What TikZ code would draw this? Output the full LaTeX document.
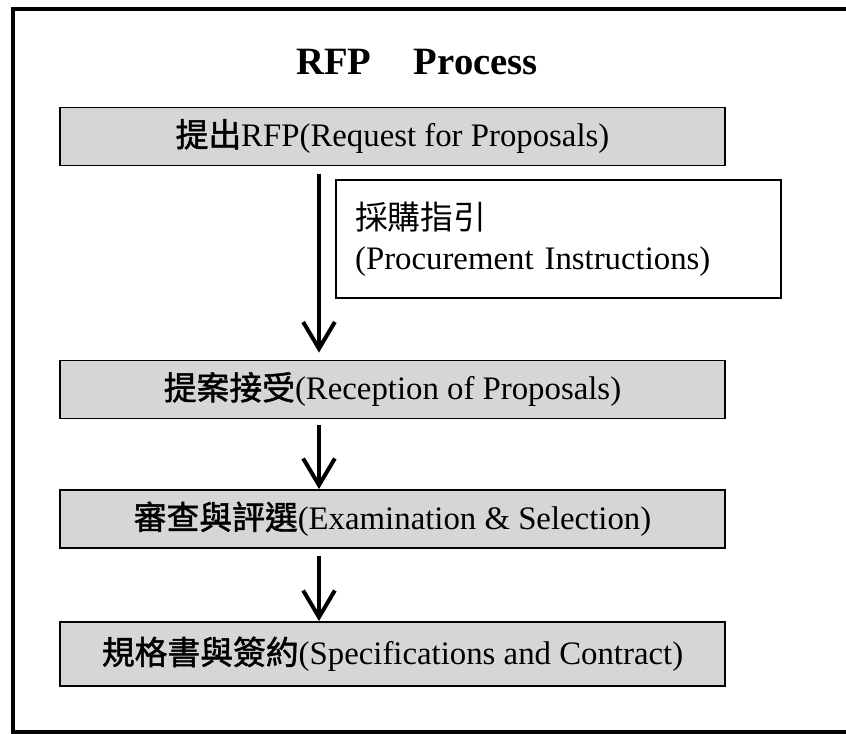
\documentclass[tikz,border=0pt]{standalone}
\usepackage{fontspec}
\setmainfont{Liberation Serif}
\newfontfamily\cjk{Noto Sans CJK TC}
\newfontfamily\cjkbold[FakeBold=1.5]{Noto Sans CJK TC}
\usetikzlibrary{positioning, arrows.meta, calc}

\begin{document}
\begin{tikzpicture}[
        x=0.03cm, y=-0.03cm,
        stage/.style={rectangle, draw, line width=1.6pt, fill=black!16, minimum width=19.95cm, minimum height=1.74cm, font=\fontsize{28}{34}\selectfont},
        note/.style={rectangle, draw, line width=1.6pt, minimum width=13.35cm, minimum height=3.54cm, inner xsep=0.54cm, text width=12.2cm, align=left, font=\fontsize{28}{34}\selectfont},
        flow/.style={line width=3.4pt, -{Straight Barb[length=0.8cm, width=0.95cm]}}
    ]

    \useasboundingbox (0,0) rectangle (846,734);

    % Outer frame (open on the right, cut by the page)
    \draw[line width=3.2pt] (846,9) -- (13,9) -- (13,732) -- (846,732);

    % Title
    \node[font=\fontsize{33}{39}\selectfont\bfseries] (title) at (417,62) {RFP\hspace{1.1em}Process};

    % --------------------------------------------------
    % Process stages
    \node[stage] (request)   at (392.5,136.5) {{\cjkbold 提出}RFP(Request for Proposals)};
    \node[stage] (reception) at (392.5,389.5) {{\cjkbold 提案接受}(Reception of Proposals)};
    \node[stage] (examine)   at (392.5,519)   {{\cjkbold 審查與評選}(Examination \& Selection)};
    \node[stage, minimum height=1.92cm] (contract) at (392.5,654) {{\cjkbold 規格書與簽約}(Specifications and Contract)};

    % Side note next to the first arrow
    \node[note, anchor=north west] (guide) at (335,179) {{\cjk 採購指引}\\(Procurement Instructions)};

    % --------------------------------------------------
    % Arrows between stages
    \draw[flow] ([xshift=-2.205cm, yshift=-0.24cm]request.south) -- ([xshift=-2.205cm, yshift=0.21cm]reception.north);
    \draw[flow] ([xshift=-2.205cm, yshift=-0.18cm]reception.south) -- ([xshift=-2.205cm]examine.north);
    \draw[flow] ([xshift=-2.205cm, yshift=-0.21cm]examine.south) -- ([xshift=-2.205cm]contract.north);

\end{tikzpicture}
\end{document}
